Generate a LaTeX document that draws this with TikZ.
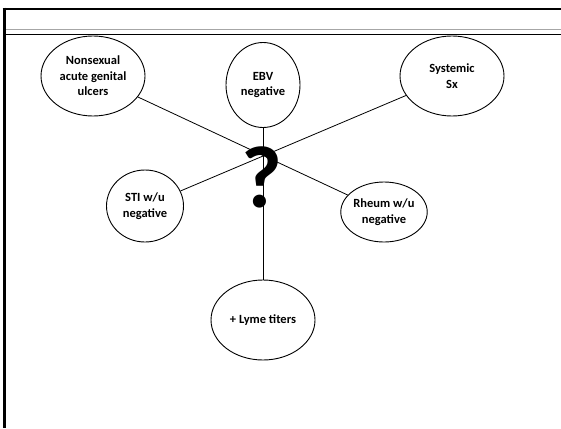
\documentclass[tikz,border=0pt]{standalone}
\usepackage{fontspec}
\setmainfont{Carlito}
\usetikzlibrary{shapes.geometric}
\begin{document}
\begin{tikzpicture}[x=1pt,y=-1pt,
  bub/.style={draw=black,line width=0.9pt,ellipse,inner sep=0pt,align=center,
    font=\fontsize{12.5}{15.5}\selectfont\bfseries},
  spoke/.style={draw=black,line width=0.8pt}]
\useasboundingbox (0,0) rectangle (561,428);
% frame
\draw[line width=2.6pt] (2.5,9) -- (561,9);
\draw[line width=3pt] (4.5,7.7) -- (4.5,428);
\draw[gray!70,line width=1pt] (6,30) -- (561,30);
\draw[line width=1.4pt] (6,34.7) -- (561,34.7);
% question mark
\node (q) at (262,177) {\fontsize{88}{88}\selectfont\bfseries ?};
% bubbles
\node[bub,minimum width=104pt,minimum height=80pt] (ulc) at (93,76) {Nonsexual\\acute genital\\ulcers};
\node[bub,minimum width=74pt,minimum height=85pt] (ebv) at (263,85) {EBV\\negative};
\node[bub,minimum width=104pt,minimum height=80pt] (sys) at (452,76) {Systemic\\Sx};
\node[bub,minimum width=77pt,minimum height=72pt] (sti) at (145,206) {STI w/u\\negative};
\node[bub,minimum width=79pt,minimum height=60pt] (rhe) at (384,212) {Rheum w/u\\negative};
\node[bub,minimum width=104pt,minimum height=80pt] (lym) at (263,320) {+ Lyme titers};
% spokes
\draw[spoke] (ulc) -- (rhe);
\draw[spoke] (sys) -- (sti);
\draw[spoke] (ebv) -- (lym);
\end{tikzpicture}
\end{document}
